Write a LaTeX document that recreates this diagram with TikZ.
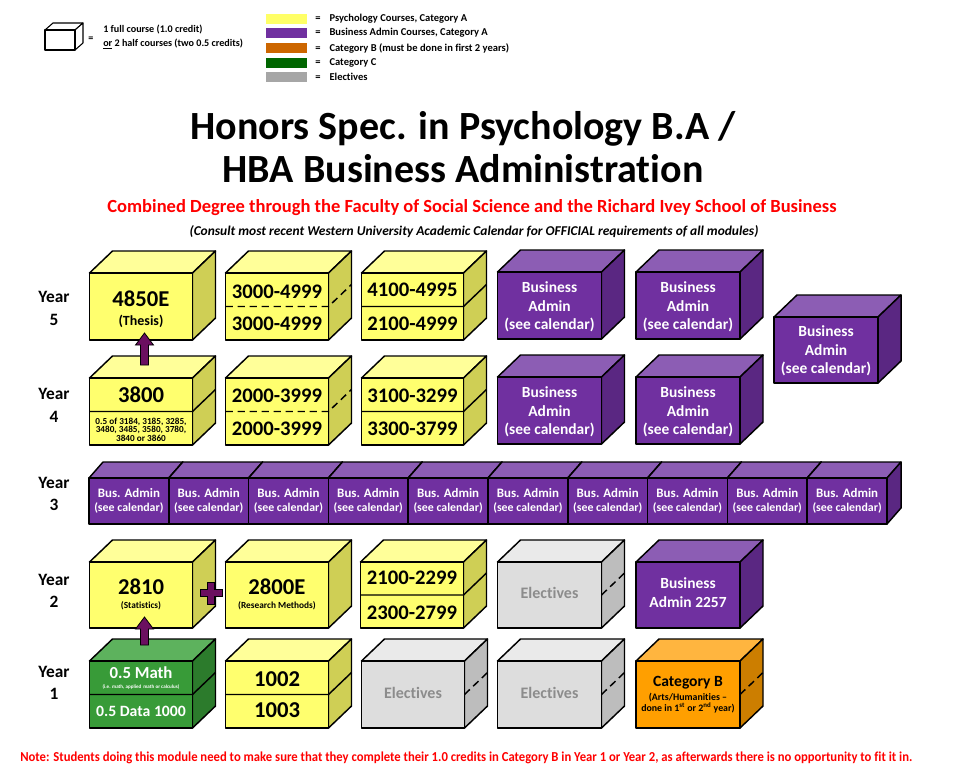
\documentclass[tikz,border=0pt]{standalone}
\usepackage{fontspec}
\setmainfont{Carlito}[Ligatures=NoCommon]
\usetikzlibrary{calc}
\definecolor{yelF}{HTML}{FFFF6E}
\definecolor{yelT}{HTML}{FFFF99}
\definecolor{yelS}{HTML}{CFCF55}
\definecolor{purF}{HTML}{7030A0}
\definecolor{purT}{HTML}{8C5DB4}
\definecolor{purS}{HTML}{5A2782}
\definecolor{grnF}{HTML}{389B38}
\definecolor{grnT}{HTML}{5DB25D}
\definecolor{grnS}{HTML}{2C7B2C}
\definecolor{gryF}{HTML}{DDDDDD}
\definecolor{gryT}{HTML}{EAEAEA}
\definecolor{gryS}{HTML}{BDBDBD}
\definecolor{ornF}{HTML}{FF9F00}
\definecolor{ornT}{HTML}{FFB53F}
\definecolor{ornS}{HTML}{CC7E00}
\definecolor{whtF}{HTML}{FFFFFF}
\definecolor{whtT}{HTML}{FFFFFF}
\definecolor{whtS}{HTML}{FFFFFF}
\definecolor{arrowP}{HTML}{6B0F60}
\definecolor{legY}{HTML}{FFFF66}
\definecolor{legP}{HTML}{7030A0}
\definecolor{legO}{HTML}{CC6600}
\definecolor{legG}{HTML}{006600}
\definecolor{legE}{HTML}{A6A6A6}
\definecolor{eleT}{HTML}{8C8C8C}
\definecolor{noteR}{HTML}{FF0000}
% cube: name, x, y(top of front), w, h, dx, dy, colour prefix
\newcommand\mycube[8]{%
  \filldraw[cb, fill=#8T] (#2,#3) -- ++(#6,-#7) -- ++(#4,0) -- ++(-#6,#7) -- cycle;
  \filldraw[cb, fill=#8S] (#2+#4,#3) -- ++(#6,-#7) -- ++(0,#5) -- ++(-#6,#7) -- cycle;
  \node[cb, fill=#8F, anchor=north west, minimum width=#4*0.75pt, minimum height=#5*0.75pt, inner sep=0pt, outer sep=0pt] (#1) at (#2,#3) {};
}
% divider across front and side: node, style
\newcommand\mysplit[2]{\draw[cb, #2] (#1.west) -- (#1.east) -- ++(23,-22);}
\newcommand\sidesplit[1]{\draw[cb, dashed] (#1.east) -- ++(23,-22);}
% block arrow from tail coordinate to tip coordinate (upwards)
\newcommand\blockarrow[2]{%
  \filldraw[fill=arrowP, draw=black, line width=0.6pt, line join=miter]
    ($(#1)+(-4,0)$) -- ($(#2)+(-4,12)$) -- ($(#2)+(-9,12)$) -- (#2) -- ($(#2)+(9,12)$) -- ($(#2)+(4,12)$) -- ($(#1)+(4,0)$) -- cycle;}
\tikzset{
  cb/.style={draw=black, line width=1.1pt, line join=round},
  dashed/.style={dash pattern=on 5.5pt off 3.5pt},
  big/.style={font=\fontsize{17}{18}\selectfont\bfseries, inner sep=0pt},
  mid/.style={font=\fontsize{15.5}{17}\selectfont\bfseries, inner sep=0pt},
  ba/.style={font=\fontsize{11.6}{13}\selectfont\bfseries, inner sep=0pt, text=white},
  sm/.style={font=\fontsize{7}{8}\selectfont\bfseries, inner sep=0pt},
  tiny/.style={font=\fontsize{6.9}{7.5}\selectfont\bfseries, inner sep=0pt},
  yr/.style={font=\fontsize{13}{14}\selectfont\bfseries, inner sep=0pt},
  leg/.style={font=\fontsize{7.6}{9}\selectfont\bfseries, inner sep=0pt, anchor=west},
  legr/.style={font=\fontsize{7.9}{9}\selectfont\bfseries, inner sep=0pt, anchor=west},
  el/.style={font=\fontsize{12}{13}\selectfont\bfseries, inner sep=0pt, text=eleT},
}
\begin{document}
\begin{tikzpicture}[x=0.75pt,y=-0.75pt]
\useasboundingbox (0,0) rectangle (955,778);
\fill[white] (0,0) rectangle (955,778);

% ---------- legend ----------
\begin{scope}[cb/.style={draw=black, line width=0.8pt, line join=round}]
\mycube{legcube}{45}{30}{30}{20}{8}{7}{wht}
\end{scope}
\node[leg] (legeq) at (88,39) {=};
\node[leg] (legl1) at (103,30) {1 full course (1.0 credit)};
\node[leg] (legl2) at (103,44) {\underline{or} 2 half courses (two 0.5 credits)};

\fill[legY] (266,14) rectangle (307,24);
\fill[legP] (266,28) rectangle (307,38);
\fill[legO] (266,43) rectangle (307,53);
\fill[legG] (266,58) rectangle (307,68);
\fill[legE] (266,72) rectangle (307,82);
\node[legr] (le1) at (315,19) {=\hspace{5pt} Psychology Courses, Category A};
\node[legr] (le2) at (315,33) {=\hspace{5pt} Business Admin Courses, Category A};
\node[legr] (le3) at (315,48) {=\hspace{5pt} Category B (must be done in first 2 years)};
\node[legr] (le4) at (315,63) {=\hspace{5pt} Category C};
\node[legr] (le5) at (315,77) {=\hspace{5pt} Electives};

% ---------- titles ----------
\node[font=\fontsize{30}{32}\selectfont\bfseries, inner sep=0pt] (title1) at (463,129) {Honors Spec. in Psychology B.A /};
\node[font=\fontsize{30}{32}\selectfont\bfseries, inner sep=0pt] (title2) at (463,169) {HBA Business Administration};
\node[font=\fontsize{13.9}{15}\selectfont\bfseries, text=noteR, inner sep=0pt] (subt) at (472,208) {Combined Degree through the Faculty of Social Science and the Richard Ivey School of Business};
\node[font=\fontsize{10.1}{11}\selectfont\bfseries\itshape, inner sep=0pt] (consult) at (474,232) {(Consult most recent Western University Academic Calendar for OFFICIAL requirements of all modules)};

% ---------- year labels ----------
\node[yr] (y5a) at (54,297) {Year}; \node[yr] (y5b) at (54,320) {5};
\node[yr] (y4a) at (54,394) {Year}; \node[yr] (y4b) at (54,417) {4};
\node[yr] (y3a) at (54,483) {Year}; \node[yr] (y3b) at (54,505) {3};
\node[yr] (y2a) at (54,580) {Year}; \node[yr] (y2b) at (54,602) {2};
\node[yr] (y1a) at (54,672) {Year}; \node[yr] (y1b) at (54,694) {1};

% ---------- Year 5 ----------
\mycube{c51}{89.5}{273}{103}{67}{23}{22}{yel}
\node[big] (t51a) at (141,299) {4850E};
\node[font=\fontsize{10.5}{12}\selectfont\bfseries, inner sep=0pt] (t51b) at (141,321) {(Thesis)};

\mycube{c52}{225.5}{273}{103}{67}{23}{22}{yel}
\mysplit{c52}{dashed}
\node[mid] (t52a) at (277,292) {3000-4999};
\node[mid] (t52b) at (277,324) {3000-4999};

\mycube{c53}{361.5}{273}{102}{67}{23}{22}{yel}
\mysplit{c53}{}
\node[mid] (t53a) at (412.5,290) {4100-4995};
\node[mid] (t53b) at (412.5,324) {2100-4999};

\mycube{c54}{497.5}{272}{104}{67}{23}{22}{pur}
\node[ba] (t54a) at (549.5,287) {Business};
\node[ba] (t54b) at (549.5,306) {Admin};
\node[ba] (t54c) at (549.5,325) {(see calendar)};

\mycube{c55}{636}{272}{104}{67}{23}{22}{pur}
\node[ba] (t55a) at (688,287) {Business};
\node[ba] (t55b) at (688,306) {Admin};
\node[ba] (t55c) at (688,325) {(see calendar)};

\mycube{c56}{774}{317}{104}{66}{23}{22}{pur}
\node[ba] (t56a) at (826,331) {Business};
\node[ba] (t56b) at (826,350) {Admin};
\node[ba] (t56c) at (826,369) {(see calendar)};

% ---------- Year 4 ----------
\mycube{c41}{89.5}{378}{103}{67}{23}{22}{yel}
\mysplit{c41}{}
\node[big] (t41a) at (141,395) {3800};
\node[tiny] (t41b) at (141,421.5) {0.5 of 3184, 3185, 3285,};
\node[tiny] (t41c) at (141,430) {3480, 3485, 3580, 3780,};
\node[tiny] (t41d) at (141,438.5) {3840 or 3860};

\mycube{c42}{225.5}{378}{103}{67}{23}{22}{yel}
\mysplit{c42}{dashed}
\node[mid] (t42a) at (277,396) {2000-3999};
\node[mid] (t42b) at (277,429) {2000-3999};

\mycube{c43}{361.5}{378}{102}{67}{23}{22}{yel}
\mysplit{c43}{}
\node[mid] (t43a) at (412.5,396) {3100-3299};
\node[mid] (t43b) at (412.5,429) {3300-3799};

\mycube{c44}{497.5}{377}{104}{67}{23}{22}{pur}
\node[ba] (t44a) at (549.5,392) {Business};
\node[ba] (t44b) at (549.5,411) {Admin};
\node[ba] (t44c) at (549.5,430) {(see calendar)};

\mycube{c45}{636}{377}{104}{67}{23}{22}{pur}
\node[ba] (t45a) at (688,392) {Business};
\node[ba] (t45b) at (688,411) {Admin};
\node[ba] (t45c) at (688,430) {(see calendar)};

% arrow 3800 -> 4850E
\coordinate (ar2tail) at ($(c41.north)+(3.5,-13)$);
\coordinate (ar2tip) at ($(c51.south)+(3.5,-7)$);
\blockarrow{ar2tail}{ar2tip}

% ---------- Year 3 ----------
\foreach \i in {0,...,9}{
  \pgfmathsetmacro\xx{89+79.8*\i}
  \mycube{c3\i}{\xx}{478}{79.8}{46}{14}{16}{pur}
  \node[font=\fontsize{9.7}{11}\selectfont\bfseries, text=white, inner sep=0pt] (t3a\i) at (\xx+39.9,493) {Bus. Admin};
  \node[font=\fontsize{8.9}{10}\selectfont\bfseries, text=white, inner sep=0pt] (t3b\i) at (\xx+39.9,508) {(see calendar)};
}

% ---------- Year 2 ----------
\mycube{c21}{89.5}{562}{103}{66}{23}{22}{yel}
\node[big] (t21a) at (141,587) {2810};
\node[sm] (t21b) at (141,606) {(Statistics)};

\mycube{c22}{225.5}{562}{103}{66}{23}{22}{yel}
\node[big] (t22a) at (277,587) {2800E};
\node[sm] (t22b) at (277,606) {(Research Methods)};

\mycube{c23}{360.5}{562}{103}{66}{23}{22}{yel}
\mysplit{c23}{}
\node[mid] (t23a) at (412,578) {2100-2299};
\node[mid] (t23b) at (412,613) {2300-2799};

\mycube{c24}{497.5}{562}{104}{66}{23}{22}{gry}
\sidesplit{c24}
\node[el] (t24a) at (549.5,593) {Electives};

\mycube{c25}{636}{562}{104}{66}{23}{22}{pur}
\node[ba] (t25a) at (688,583) {Business};
\node[ba] (t25b) at (688,602) {Admin 2257};

% plus sign
\coordinate (plusc) at (211,593);
\filldraw[fill=arrowP, draw=black, line width=0.6pt]
  ($(plusc)+(-11,-3.5)$) -- ($(plusc)+(-3.5,-3.5)$) -- ($(plusc)+(-3.5,-11)$) -- ($(plusc)+(3.5,-11)$) --
  ($(plusc)+(3.5,-3.5)$) -- ($(plusc)+(11,-3.5)$) -- ($(plusc)+(11,3.5)$) -- ($(plusc)+(3.5,3.5)$) --
  ($(plusc)+(3.5,11)$) -- ($(plusc)+(-3.5,11)$) -- ($(plusc)+(-3.5,3.5)$) -- ($(plusc)+(-11,3.5)$) -- cycle;

% ---------- Year 1 ----------
\mycube{c11}{89.5}{661}{103}{67}{23}{22}{grn}
\mysplit{c11}{}
\node[font=\fontsize{12.6}{14}\selectfont\bfseries, text=white, inner sep=0pt] (t11a) at (141,673) {0.5 Math};
\node[font=\fontsize{3.8}{4}\selectfont\bfseries, text=white, inner sep=0pt] (t11b) at (141,687) {(i.e. math, applied\, math or calculus)};
\node[font=\fontsize{11.8}{13}\selectfont\bfseries, text=white, inner sep=0pt] (t11c) at (141,711) {0.5 Data 1000};

\mycube{c12}{225.5}{661}{103}{67}{23}{22}{yel}
\mysplit{c12}{}
\node[big] (t12a) at (277,679) {1002};
\node[big] (t12b) at (277,710) {1003};

\mycube{c13}{361.5}{661}{103}{67}{23}{22}{gry}
\sidesplit{c13}
\node[el] (t13a) at (413,693) {Electives};

\mycube{c14}{497.5}{661}{104}{67}{23}{22}{gry}
\sidesplit{c14}
\node[el] (t14a) at (549.5,693) {Electives};

\mycube{c15}{636}{661}{104}{67}{23}{22}{orn}
\sidesplit{c15}
\node[font=\fontsize{11.7}{13}\selectfont\bfseries, inner sep=0pt] (t15a) at (688,683) {Category B};
\node[font=\fontsize{7.4}{8}\selectfont\bfseries, inner sep=0pt] (t15b) at (688,698) {(Arts/Humanities --};
\node[font=\fontsize{7.4}{8}\selectfont\bfseries, inner sep=0pt] (t15c) at (688,708) {done in 1\textsuperscript{st} or 2\textsuperscript{nd} year)};

% arrow Math -> 2810
\coordinate (ar1tail) at ($(c11.north)+(3.5,-16)$);
\coordinate (ar1tip) at ($(c21.south)+(3.5,-11)$);
\blockarrow{ar1tail}{ar1tip}

% ---------- note ----------
\node[anchor=west, inner sep=0pt, text=noteR] (note) at (20,758) {\resizebox{669pt}{7.2pt}{\bfseries Note: Students doing this module need to make sure that they complete their 1.0 credits in Category B in Year 1 or Year 2, as afterwards there is no opportunity to fit it in.}};
\end{tikzpicture}
\end{document}
